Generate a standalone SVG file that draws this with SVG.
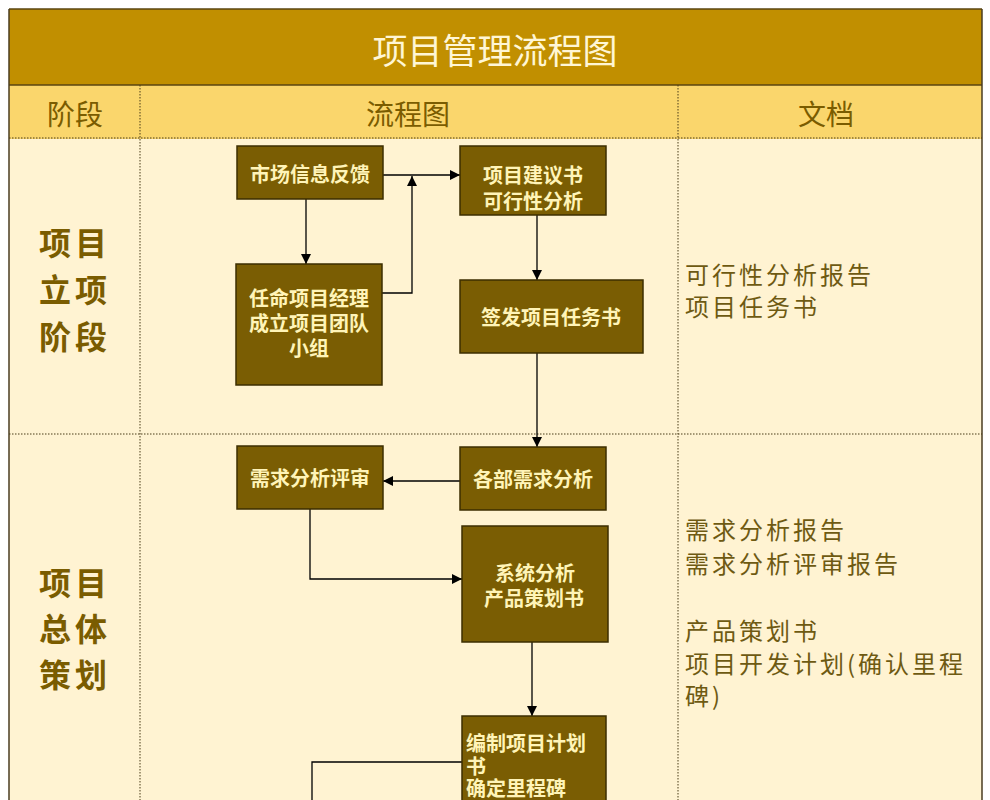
<svg xmlns="http://www.w3.org/2000/svg" width="990" height="800" viewBox="0 0 990 800">
<defs>
<marker id="ah" viewBox="0 0 10 10" refX="10" refY="5" markerWidth="10" markerHeight="10" markerUnits="userSpaceOnUse" orient="auto">
<path d="M0,0 L10,5 L0,10 z" fill="#000"/>
</marker>
</defs>
<style>
.box{fill:#7A5D03;stroke:#3C2E00;stroke-width:1.5}
.bt{font-family:"Noto Sans CJK SC","Noto Sans",sans-serif;font-size:20px;font-weight:bold;fill:#FFF4B8;dominant-baseline:central}
.c{text-anchor:middle}
.conn{fill:none;stroke:#000;stroke-width:1.3}
.dot{stroke:#4A3C18;stroke-width:1;stroke-dasharray:1.5 1.5;fill:none}
.stage{font-family:"Noto Sans CJK SC",sans-serif;font-size:32px;font-weight:bold;fill:#7A5C00;text-anchor:middle;letter-spacing:4px;dominant-baseline:central}
.doc{font-family:"Noto Sans CJK SC",sans-serif;font-size:24px;fill:#6E5A12;letter-spacing:3px;dominant-baseline:central}
.hd{font-family:"Noto Sans CJK SC",sans-serif;font-size:28px;fill:#7A5C00;text-anchor:middle;dominant-baseline:central}
</style>
<rect x="0" y="0" width="990" height="800" fill="#FFFFFF"/>
<g id="table">
<rect x="9" y="139" width="973" height="661" fill="#FFF3D2"/>
<rect x="9" y="9" width="973" height="76" fill="#C18F00"/>
<rect x="9" y="85" width="973" height="54" fill="#FAD66C"/>
<line x1="9" y1="9" x2="982" y2="9" stroke="#5A4510" stroke-width="1.5"/>
<line x1="9" y1="85" x2="982" y2="85" stroke="#5A4510" stroke-width="1.5"/>
<line x1="9" y1="9" x2="9" y2="800" stroke="#4A3C20" stroke-width="1.5"/>
<line x1="982" y1="9" x2="982" y2="800" stroke="#4A3C20" stroke-width="1.5"/>
<line class="dot" x1="9" y1="138" x2="982" y2="138"/>
<line class="dot" x1="9" y1="434" x2="982" y2="434"/>
<line class="dot" x1="140" y1="85" x2="140" y2="800"/>
<line class="dot" x1="678" y1="85" x2="678" y2="800"/>
<text x="495" y="48" font-family="Noto Sans CJK SC,sans-serif" font-size="35" fill="#FFF6D5" text-anchor="middle" dominant-baseline="central">项目管理流程图</text>
<text class="hd" x="75" y="113">阶段</text>
<text class="hd" x="408" y="113">流程图</text>
<text class="hd" x="826" y="113">文档</text>
</g>
<g id="stage1">
<text class="stage" x="75" y="241">项目</text>
<text class="stage" x="75" y="288">立项</text>
<text class="stage" x="75" y="335">阶段</text>
</g>
<g id="stage2">
<text class="stage" x="75" y="581">项目</text>
<text class="stage" x="75" y="627">总体</text>
<text class="stage" x="75" y="673">策划</text>
</g>
<g id="docs1">
<text class="doc" x="685" y="273">可行性分析报告</text>
<text class="doc" x="685" y="305">项目任务书</text>
</g>
<g id="docs2">
<text class="doc" x="685" y="528">需求分析报告</text>
<text class="doc" x="685" y="562">需求分析评审报告</text>
<text class="doc" x="685" y="629">产品策划书</text>
<text class="doc" x="685" y="662">项目开发计划(确认里程</text>
<text class="doc" x="685" y="694">碑)</text>
</g>
<g id="connectors">
<path class="conn" d="M383 175 H460" marker-end="url(#ah)"/>
<path class="conn" d="M306 199 V264" marker-end="url(#ah)"/>
<path class="conn" d="M382 293 H412 V176" marker-end="url(#ah)"/>
<path class="conn" d="M537 215 V280" marker-end="url(#ah)"/>
<path class="conn" d="M537 353 V447" marker-end="url(#ah)"/>
<path class="conn" d="M460 481 H383" marker-end="url(#ah)"/>
<path class="conn" d="M310 509 V579 H462" marker-end="url(#ah)"/>
<path class="conn" d="M532 642 V716" marker-end="url(#ah)"/>
<path class="conn" d="M462 762 H312 V800"/>
</g>
<g id="n-market">
<rect class="box" x="237" y="146" width="146" height="53"/>
<text class="bt c" x="310" y="173">市场信息反馈</text>
</g>
<g id="n-proposal">
<rect class="box" x="460" y="146" width="146" height="69"/>
<text class="bt c" x="533" y="174">项目建议书</text>
<text class="bt c" x="533" y="200">可行性分析</text>
</g>
<g id="n-appoint">
<rect class="box" x="236" y="264" width="146" height="121"/>
<text class="bt c" x="309" y="297">任命项目经理</text>
<text class="bt c" x="309" y="322">成立项目团队</text>
<text class="bt c" x="309" y="347">小组</text>
</g>
<g id="n-issue">
<rect class="box" x="460" y="280" width="183" height="73"/>
<text class="bt c" x="551" y="316" font-size="23">签发项目任务书</text>
</g>
<g id="n-dept">
<rect class="box" x="460" y="447" width="146" height="63"/>
<text class="bt c" x="533" y="478">各部需求分析</text>
</g>
<g id="n-review">
<rect class="box" x="237" y="446" width="146" height="63"/>
<text class="bt c" x="310" y="477">需求分析评审</text>
</g>
<g id="n-system">
<rect class="box" x="462" y="526" width="146" height="116"/>
<text class="bt c" x="535" y="572">系统分析</text>
<text class="bt c" x="534" y="597">产品策划书</text>
</g>
<g id="n-plan">
<rect class="box" x="462" y="716" width="144" height="100"/>
<text class="bt" x="466" y="742">编制项目计划</text>
<text class="bt" x="466" y="765">书</text>
<text class="bt" x="466" y="787">确定里程碑</text>
</g>
</svg>
